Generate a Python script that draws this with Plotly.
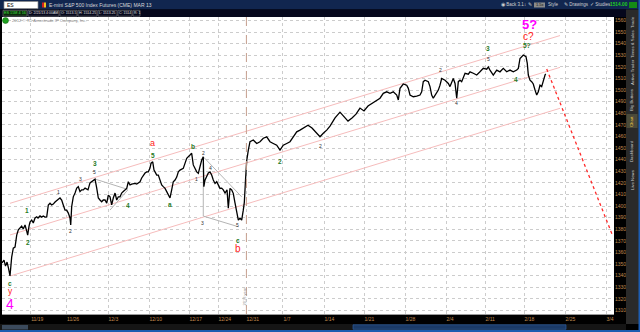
import plotly.graph_objects as go

# ---------------- data (x = trading days from first bar, y = index points) ----------------
session_day = [
    0.0, 0.25, 0.44, 0.63, 0.81, 1.0, 1.21, 1.41, 1.63, 1.84,
    2.04, 2.25, 2.46, 2.66, 2.88, 3.09, 3.21, 3.38, 3.5, 3.71,
    3.91, 4.13, 4.34, 4.5, 4.75, 4.96, 5.16, 5.38, 5.59, 5.79,
    6.0, 6.21, 6.41, 6.63, 6.84, 7.04, 7.25, 7.46, 7.66, 7.88,
    8.09, 8.29, 8.5, 8.59, 8.71, 8.91, 9.13, 9.34, 9.54, 9.75,
    9.96, 10.16, 10.38, 10.59, 10.75, 11.0, 11.41, 11.63, 11.84, 12.04,
    12.25, 12.46, 12.66, 12.88, 13.09, 13.29, 13.5, 13.71, 13.91, 14.13,
    14.34, 14.54, 14.75, 14.96, 15.16, 15.38, 15.59, 15.79, 16.0, 16.21,
    16.41, 16.63, 16.84, 17.04, 17.25, 17.46, 17.66, 17.88, 18.09, 18.29,
    18.5, 18.63, 18.84, 19.0, 19.13, 19.34, 19.54, 19.75, 19.96, 20.16,
    20.38, 20.59, 20.79, 21.0, 21.21, 21.41, 21.63, 21.84, 22.04, 22.25,
    22.66, 22.88, 23.09, 23.5, 23.71, 23.91, 24.34, 24.54, 24.75, 24.96,
    25.16, 25.23, 25.38, 25.59, 25.79, 26.0, 26.21, 26.41, 26.63, 26.84,
    27.04, 27.25, 27.46, 27.66, 27.88, 28.13, 28.29, 28.5, 28.71, 28.91,
    29.13, 29.34, 29.54, 29.75, 29.96, 30.16, 30.29, 30.46, 30.59, 30.79,
    31.0, 31.41, 31.84, 32.25, 32.66, 33.09, 33.5, 33.91, 34.34, 34.75,
    35.16, 35.59, 36.0, 36.41, 36.84, 37.25, 37.75, 38.25, 38.75, 39.34,
    39.75, 40.16, 40.59, 41.0, 41.63, 42.25, 42.75, 43.25, 43.75, 44.25,
    44.75, 45.25, 45.75, 46.25, 46.75, 47.25, 47.66, 48.09, 48.5, 48.91,
    49.34, 49.54, 49.75, 50.16, 50.59, 50.79, 51.0, 51.41, 51.84, 52.25,
    52.46, 52.66, 52.88, 53.29, 53.5, 53.71, 53.91, 54.34, 54.54, 54.75,
    54.96, 55.38, 55.59, 55.79, 56.0, 56.21, 56.41, 56.63, 56.84, 57.04,
    57.25, 57.46, 57.66, 57.88, 58.29, 58.5, 58.91, 59.34, 59.75, 60.16,
    60.59, 60.79, 61.0, 61.41, 61.84, 62.25, 62.66, 63.09, 63.5, 63.91,
    64.34, 64.54, 64.75, 64.96, 65.16, 65.5, 65.66, 65.79, 66.0, 66.21,
    66.41, 66.63, 66.84, 67.04, 67.25, 67.46, 67.66, 67.88, 67.96,
]
price = [
    1351, 1353.5, 1348.25, 1351.75, 1346.5, 1339.75, 1356, 1363.75, 1364.75, 1375,
    1379.5, 1381, 1382.75, 1380.25, 1383.75, 1378.5, 1375, 1382.75, 1386.25, 1388,
    1385.5, 1389.75, 1390.75, 1389.75, 1391.5, 1390.5, 1391.5, 1390.5, 1390.75, 1401,
    1402.5, 1401, 1401.75, 1403.5, 1405.25, 1406, 1407, 1405.25, 1401, 1396.5,
    1396.5, 1394, 1389.75, 1383.75, 1399.5, 1408, 1411.25, 1415.5, 1416.75, 1412.5,
    1414, 1414, 1415.5, 1414.75, 1414, 1420, 1422.5, 1423.25, 1415.5, 1407,
    1405.25, 1403.75, 1405.25, 1405.25, 1402.5, 1409.5, 1408, 1401, 1407, 1411.25,
    1405.25, 1408, 1408, 1411.25, 1412.5, 1414, 1415.25, 1421, 1418.25, 1419,
    1419.5, 1419.5, 1419, 1420, 1421, 1424.25, 1426.75, 1428.5, 1429.5, 1429.5,
    1432.75, 1437, 1438.25, 1431, 1429.5, 1426.75, 1426.75, 1422.5, 1418.25, 1416.75,
    1415.25, 1412.5, 1409.5, 1407, 1414, 1421, 1422.5, 1425, 1429.5, 1431,
    1432.5, 1438.25, 1441.25, 1444, 1445.5, 1435.5, 1429.5, 1428.25, 1434, 1439.75,
    1442.5, 1416.75, 1422.5, 1425.25, 1428.5, 1429.5, 1426.75, 1422.5, 1419.5, 1421,
    1418.25, 1415.25, 1415.5, 1414, 1411.25, 1414, 1398.25, 1415.25, 1414, 1411,
    1402.5, 1395, 1388, 1389.5, 1388, 1396.5, 1403.25, 1425, 1439.25, 1448.25,
    1455.5, 1457, 1454, 1455.5, 1458.5, 1459.75, 1455.5, 1454, 1452.5, 1448.25,
    1452.5, 1454, 1455.5, 1459.75, 1464, 1465.5, 1468, 1469.75, 1467.25, 1462.75,
    1459.75, 1462.75, 1465.5, 1469, 1476, 1481, 1477.5, 1473.25, 1476, 1479.25,
    1484.5, 1482, 1486.25, 1488.75, 1490.5, 1493, 1497.25, 1498.5, 1497.25, 1498.5,
    1495.75, 1491.5, 1501.5, 1505.25, 1504.25, 1501.5, 1495.75, 1494.25, 1494.75, 1495.75,
    1498.5, 1507.25, 1508.5, 1507.25, 1503, 1495.75, 1493, 1497.25, 1500, 1504.25,
    1510, 1508.5, 1507.25, 1505.75, 1503, 1507.25, 1510, 1505.75, 1493, 1507.25,
    1508.5, 1507.25, 1511.5, 1514.5, 1513.75, 1515.75, 1514.5, 1513, 1515.75, 1518.75,
    1518, 1520, 1517.25, 1513, 1517.25, 1515.75, 1518.75, 1515.75, 1517.25, 1515.75,
    1517.25, 1518.75, 1527.25, 1529.25, 1530.25, 1528.75, 1523, 1513, 1508.5, 1507.25,
    1505.25, 1500, 1495.75, 1498.5, 1504.25, 1503, 1508.5, 1513, 1514,
]

tick_days = [3.58, 8.06, 13.25, 18.38, 23.38, 27.0, 30.5, 35.12, 40.25, 45.25,
             50.38, 55.5, 60.38, 65.25, 70.38, 75.5]
tick_text = ["11/19", "11/26", "12/3", "12/10", "12/17", "12/24", "12/31", "1/7", "1/14",
             "1/21", "1/28", "2/4", "2/11", "2/18", "2/25", "3/4"]
price_ticks = list(range(1310, 1561, 10))
year_break_day = 30.55

# channel (three parallel lines)
channel_days = [1.0, 69.75]
channel_top = [1402.4, 1547.0]
channel_mid = [1375.1, 1519.6]
channel_low = [1339.7, 1484.3]

# projected decline (red dotted)
proj_days = [68.09, 76.25]
proj_price = [1518.1, 1375.9]

# gray drawing lines (triangle and wedge)
gray_segments = [
    ([11.63, 15.71], [1423.3, 1414.4]),
    ([13.5, 15.71], [1396.6, 1413.8]),
    ([25.16, 29.96], [1442.5, 1408.0]),
    ([25.16, 25.16], [1439.7, 1391.4]),
    ([25.16, 29.54], [1391.4, 1382.2]),
]

# wave labels
green_text = ["c", "1", "2", "3", "4", "5", "a", "b", "c", "2", "3", "4", "5?"]
green_day = [1.0, 3.09, 3.29, 11.6, 15.7, 18.84, 21.0, 23.9, 29.54, 34.75, 60.8, 64.25, 65.66]
green_price = [1333.4, 1396.6, 1368.9, 1436.3, 1400.9, 1444.0, 1401.8, 1451.7, 1370.7,
               1438.2, 1536.0, 1509.2, 1538.2]

minor_text = ["1", "2", "3", "5", "1", "2", "3", "4", "5", "2", "2", "4", "5"]
minor_day = [7.04, 8.58, 9.75, 11.6, 24.3, 25.16, 25.1, 26.1, 29.46, 39.75, 54.8, 56.8, 60.8]
minor_price = [1411.9, 1378.5, 1423.1, 1429.6, 1423.1, 1446.0, 1385.7, 1432.5, 1383.7,
               1452.0, 1517.3, 1489.1, 1526.5]

red_text = ["y", "a", "b", "c?"]
red_day = [1.0, 18.84, 29.54, 65.79]
red_price = [1326.6, 1454.3, 1363.6, 1546.6]

magenta_text = ["4", "5?"]
magenta_day = [1.0, 65.9]
magenta_price = [1316.0, 1556.9]

# ---------------- figure ----------------
W, H = 640, 332
ML, MR, MT, MB = 2, 26, 17, 18
PW, PH = W - ML - MR, H - MT - MB


def hx(p):
    return (p - ML) / PW


def hy(p):
    return (H - MB - p) / PH


fig = go.Figure()

for y_vals in (channel_top, channel_mid, channel_low):
    fig.add_trace(go.Scatter(x=channel_days, y=y_vals, mode="lines",
                             line=dict(color="#f6bcbc", width=1), hoverinfo="skip"))

for xs, ys in gray_segments:
    fig.add_trace(go.Scatter(x=xs, y=ys, mode="lines",
                             line=dict(color="#b4b4b4", width=1), hoverinfo="skip"))

fig.add_trace(go.Scatter(x=session_day, y=price, mode="lines",
                         line=dict(color="#000000", width=1.3)))

fig.add_trace(go.Scatter(x=proj_days, y=proj_price, mode="lines",
                         line=dict(color="#ff2a2a", width=1.3, dash="dot"), hoverinfo="skip"))

annotations = []


def data_labels(texts, xs, ys, color, size, bold=False, yanchor="middle"):
    for t, x, y in zip(texts, xs, ys):
        annotations.append(dict(
            x=x, y=y, xref="x", yref="y", text=("<b>%s</b>" % t) if bold else t,
            showarrow=False, xanchor="center", yanchor=yanchor, borderpad=0,
            font=dict(family="Liberation Sans, Arial", size=size, color=color)))


data_labels(green_text, green_day, green_price, "#1f7a1f", 6.5, bold=True)
data_labels(minor_text, minor_day, minor_price, "#303030", 5)
for t, x, y, s in zip(red_text, red_day, red_price, [8.5, 9, 10, 10]):
    data_labels([t], [x], [y], "#ff2020", s)
for t, x, y, s in zip(magenta_text, magenta_day, magenta_price, [14, 13]):
    data_labels([t], [x], [y], "#ff00ff", s, bold=(t == "5?"))

shapes = []


def rect(x0, y0, x1, y1, fill, line=None, lw=0.7):
    shapes.append(dict(type="rect", xref="paper", yref="paper",
                       x0=hx(x0), x1=hx(x1), y0=hy(y1), y1=hy(y0),
                       fillcolor=fill, line=dict(color=line or fill, width=lw if line else 0),
                       layer="above"))


def label(px_, py_, text, color="#d0d0d0", size=5, anchor="left", angle=0):
    annotations.append(dict(x=hx(px_), y=hy(py_), xref="paper", yref="paper", text=text,
                            showarrow=False, xanchor=anchor, yanchor="middle",
                            textangle=angle, borderpad=0,
                            font=dict(family="Liberation Sans, Arial", size=size, color=color)))


# year separator
shapes.append(dict(type="line", xref="x", yref="paper", x0=year_break_day, x1=year_break_day,
                   y0=0, y1=1, line=dict(color="#c8a090", width=1, dash="dash")))
label(243.5, 297, "2013 year", color="#909090", size=4, anchor="center", angle=-90)

# header
rect(0, 0, 640, 9.5, "#11264f")
rect(0, 9.5, 640, 17, "#05071c")
rect(4, 1.5, 38, 8.5, "#ffffff", "#8a8a8a")
label(6, 5, "ES", color="#000000", size=5)
rect(42, 2.5, 44, 7.5, "#d02020")
rect(44, 2.5, 46, 7.5, "#f0c020")
label(48, 5, "E-mini S&P 500 Index Futures (CME) MAR 13", color="#d8d8d8", size=5)
rect(3, 10.3, 27, 16.2, "#0c2a0c", "#707070")
label(15, 13.2, "ES 15M 4 16", color="#40e040", size=3.8, anchor="center")
info = [(28, 59, "D: 2/21/13 4:00AM"), (60, 77, "O: 1513.5"), (78, 97, "H: 1514.25"),
        (98, 117, "L: 1513.25"), (118, 132, "C: 1514"), (133, 140, "R: 1")]
for a, b, t in info:
    rect(a, 10.3, b, 16.2, "rgba(0,0,0,0)", "#707070")
    label((a + b) / 2, 13.2, t, color="#e0e0e0", size=3.5, anchor="center")
label(500, 5, "\u25c9 Back 3.1", color="#d0d0d0", size=4.5)
label(523, 5, "\u2195 \u270e", color="#d0d0d0", size=4.5)
rect(534, 2.5, 545, 7.5, "#8a8a8a")
label(539.5, 5, "1.5x", color="#101010", size=4, anchor="center")
label(547, 5, "Style", color="#d0d0d0", size=4.5)
label(563, 5, "\u270e Drawings", color="#d0d0d0", size=4.5)
label(589, 5, "\u2713 Studies", color="#d0d0d0", size=4.5)
label(609, 5, "<b>1514.00</b>", color="#20d020", size=4.8)
rect(629, 2, 637, 8, "#158a15")

# right tab strip
rect(626, 9.5, 640, 324, "#2a2a2a")
rect(638.5, 0, 640, 332, "#1d5cb0")
rect(626.5, 114, 637.5, 128, "#4a4a3a")
for text, cy, col in [("Trade", 22, "#c8c8c8"), ("Times & Sales", 44, "#c8c8c8"),
                      ("Active Trader", 72, "#c8c8c8"), ("Big Buttons", 100, "#c8c8c8"),
                      ("Chart", 121, "#f0c840"), ("Dashboard", 151, "#c8c8c8"),
                      ("Live News", 180, "#c8c8c8")]:
    label(632, cy, text, color=col, size=4.3, anchor="center", angle=-90)

# bottom toolbar
rect(0, 324, 626, 330, "#151515")
rect(2, 325, 28, 329.5, "#3b4a5c")
rect(353, 324.8, 566, 329.3, "#1b3a66", "#2d5d9d")
rect(0, 330, 640, 332, "#1d5cb0")

# top-left copyright marker
shapes.append(dict(type="circle", xref="paper", yref="paper",
                   x0=hx(2.5), x1=hx(8.5), y0=hy(23.5), y1=hy(17.5),
                   fillcolor="#1fa01f", line=dict(color="#0f600f", width=0.5)))
label(10.5, 20.5, "2012 \u00a9 TD Ameritrade IP Company, Inc.", color="#8a8a8a", size=4.2)

axis_font = dict(family="Liberation Sans, Arial", size=5, color="#c08a50")

fig.update_layout(
    width=W, height=H,
    margin=dict(l=ML, r=MR, t=MT, b=MB, pad=0),
    paper_bgcolor="#000000",
    plot_bgcolor="#ffffff",
    showlegend=False,
    shapes=shapes,
    annotations=annotations,
    xaxis=dict(range=[0, 76.5], tickvals=tick_days, ticktext=tick_text,
               ticklabelposition="outside right", ticks="", tickfont=axis_font,
               showgrid=True, gridcolor="#cccccc", griddash="dot", gridwidth=1,
               zeroline=False, showline=True, linecolor="#9a9a9a", linewidth=1,
               automargin=False, fixedrange=True),
    yaxis=dict(range=[1307, 1563], tickvals=price_ticks, side="right", ticks="",
               tickfont=axis_font, showgrid=True, gridcolor="#cccccc", griddash="dot",
               gridwidth=1, zeroline=False, showline=False, automargin=False,
               fixedrange=True),
)

fig.write_html("out.html")
